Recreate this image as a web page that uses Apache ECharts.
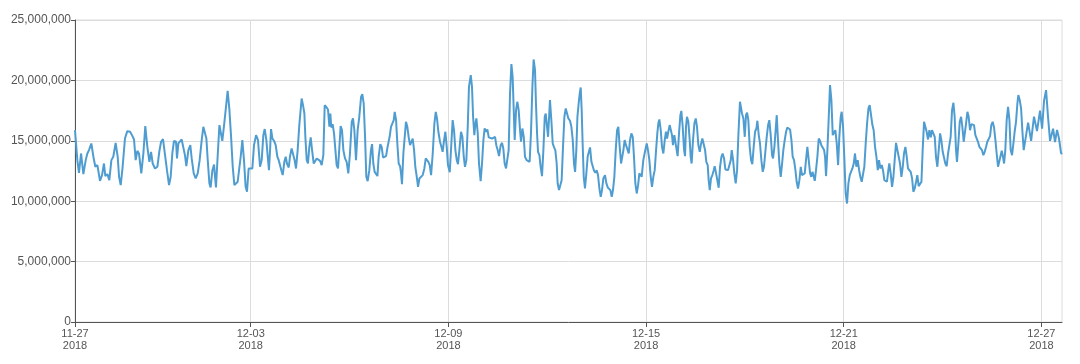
<!DOCTYPE html>
<html>
<head>
<meta charset="utf-8">
<script src="https://cdn.jsdelivr.net/npm/echarts@6/dist/echarts.min.js"></script>
<style>html,body{margin:0;padding:0;background:#fff;}#c{width:1080px;height:364px;}</style>
</head>
<body>
<div id="c"></div>
<script>
// hours since 2018-11-27 00:00
const hours = [
16.0,17.7,18.9,20.4,22.1,23.8,25.0,26.2,27.9,29.4,30.8,32.3,34.2,35.7,37.1,38.1,39.6,41.0,42.5,43.9,45.6,47.1,48.1,49.3,50.7,52.4,54.1,56.1,57.5,59.0,60.2,61.4,62.6,64.3,65.8,67.2,68.7,70.2,71.4,72.6,74.3,76.0,77.4,78.7,80.1,
83.0,84.5,85.7,86.9,88.1,89.6,90.3,91.3,92.5,93.7,94.9,96.1,97.1,98.6,100.0,101.0,102.5,103.9,105.4,106.8,108.3,109.5,110.5,111.7,112.7,113.9,114.8,116.1,117.3,118.0,118.7,119.9,121.2,122.4,123.3,124.6,126.0,127.2,128.4,129.7,130.9,132.1,133.3,134.5,135.5,136.7,137.9,139.1,140.3,141.3,142.5,143.7,145.2,146.4,147.9,149.3,
150.8,152.0,153.2,154.2,155.4,156.4,157.3,158.1,158.8,159.8,161.0,162.2,163.4,164.4,165.3,166.3,167.3,168.5,169.5,170.4,171.7,172.6,173.8,175.1,176.0,177.0,178.2,179.4,180.4,181.1,182.1,183.1,183.8,184.8,185.7,186.7,187.7,188.7,189.9,191.1,192.1,193.3,194.5,195.7,196.9,197.9,199.3,200.3,201.3,202.0,202.7,203.7,204.7,205.7,206.6,207.6,208.6,209.5,210.5,211.5,212.7,213.9,215.1,216.3,217.6,218.5,219.5,
220.7,221.9,223.1,224.4,225.3,226.3,227.3,228.2,229.2,230.4,231.6,232.4,233.3,234.3,235.5,236.3,237.2,238.4,239.4,240.4,241.4,242.6,243.5,244.3,245.2,246.2,247.2,248.2,248.9,249.9,250.8,251.8,252.8,253.5,254.2,255.2,256.2,257.1,258.1,259.1,260.1,261.0,262.0,263.0,263.9,264.9,265.9,266.9,268.1,269.3,270.5,271.5,272.4,273.4,274.4,275.4,276.6,277.8,278.8,279.7,280.7,281.9,282.9,283.8,284.8,285.8,286.8,287.7,289.0,
291.1,292.1,293.1,294.1,295.0,296.0,297.2,298.2,299.2,300.1,301.1,302.1,303.0,304.3,305.2,306.0,306.9,307.7,308.4,309.4,310.3,311.5,312.5,313.5,314.4,315.4,316.4,317.4,318.6,319.8,321.0,322.0,322.9,323.9,324.9,326.1,327.1,328.0,329.0,330.0,331.0,331.9,332.9,333.9,334.8,335.6,336.3,337.3,338.2,339.2,340.2,340.9,341.9,342.9,343.8,345.0,346.3,347.2,348.2,349.2,350.1,351.1,351.8,352.6,353.3,354.3,355.2,356.2,357.2,358.2,
358.9,360.6,362.0,363.0,364.0,365.0,365.9,366.9,367.6,368.6,369.6,370.5,371.5,372.5,373.5,374.4,375.4,376.6,377.6,378.6,379.5,380.3,381.2,382.0,382.9,383.7,384.4,385.1,385.8,386.6,387.5,388.5,389.5,390.5,391.2,392.2,393.1,394.1,395.1,396.0,397.0,398.0,399.0,399.9,400.9,402.1,403.1,404.1,405.0,406.0,407.0,407.9,408.9,409.9,410.9,411.8,412.8,413.8,414.5,415.5,416.4,417.4,418.4,419.4,420.3,421.3,422.3,423.2,424.2,425.2,426.2,427.1,
428.8,430.0,431.2,432.5,433.4,434.4,435.4,436.3,437.3,438.3,439.3,440.2,441.0,441.7,442.7,443.6,444.6,445.6,446.5,447.3,448.2,449.2,450.2,450.9,451.6,452.6,453.3,454.3,455.0,456.0,457.0,457.7,458.7,459.7,460.4,461.1,461.8,462.8,463.8,464.5,465.2,466.2,467.2,468.2,469.1,470.1,471.1,472.0,473.0,474.0,475.0,475.9,476.9,477.6,478.4,479.3,480.3,481.3,482.0,483.0,483.9,484.9,485.9,486.9,487.8,488.8,489.8,490.7,491.7,492.7,493.7,494.4,495.4,496.3,497.3,498.3,499.2,500.4,
501.9,502.9,503.9,504.8,505.6,506.5,507.5,508.5,509.4,510.4,511.4,512.4,513.1,514.1,515.0,516.0,517.0,517.9,518.9,519.9,520.9,521.8,522.8,523.8,524.5,525.5,526.4,527.2,528.1,529.1,530.1,531.1,532.0,533.0,534.0,534.9,535.9,536.9,537.9,538.8,539.8,540.8,541.7,542.7,543.7,544.7,545.6,546.6,547.6,548.5,549.5,550.5,551.5,552.4,553.2,553.9,554.9,555.8,556.8,557.8,558.7,559.7,560.7,561.7,562.4,563.1,564.1,565.1,
566.0,567.0,568.0,568.9,569.9,570.9,571.9,572.8,573.8,574.5,575.5,576.5,577.4,578.4,579.4,580.4,581.3,582.3,583.3,584.2,585.2,586.2,587.2,588.1,589.1,590.1,591.0,592.0,593.0,594.0,594.9,595.9,596.9,597.8,598.8,599.8,600.8,601.7,602.7,603.7,604.6,605.6,606.6,607.5,608.5,609.2,610.2,611.2,612.2,613.1,614.1,615.1,616.0,617.0,618.0,619.0,619.9,620.9,621.9,622.8,623.8,624.8,625.8,626.7,627.7,628.7,629.6,630.6,631.6,632.6,633.5,634.5,
635.5,636.4,637.4,638.4,639.4,640.3,641.3,642.3,643.2,644.2,645.2,646.2,647.1,648.1,649.1,650.0,651.0,652.0,653.0,653.9,654.9,655.9,656.8,657.8,658.5,659.5,660.5,661.5,662.4,663.4,664.1,665.1,666.1,667.0,668.0,669.0,670.0,670.9,671.9,672.9,673.8,674.8,675.8,676.7,677.7,678.7,679.7,680.6,681.6,682.6,683.5,684.5,685.5,686.5,687.4,688.4,689.1,690.1,691.1,692.0,692.8,693.7,694.7,695.7,696.7,697.6,698.6,699.6,700.5,701.5,702.5,703.2,704.2,705.2,706.1,707.1,708.1,
710.3,712.5,714.6,716.8,719.0,720.5,721.9,723.4,724.8,726.3,728.5,729.9,731.4,732.8,734.3,735.0
];
// values in millions
const valuesM = [
15.88,13.40,12.35,13.95,12.24,13.40,13.95,14.23,14.78,13.68,12.85,12.99,11.69,12.16,13.12,12.08,12.24,11.74,13.40,13.68,14.83,13.68,12.02,11.33,12.85,15.19,15.80,15.75,15.47,15.11,13.40,14.17,13.95,12.30,13.95,16.21,14.50,13.26,14.09,13.12,12.71,12.85,14.09,14.92,15.14,
12.57,11.33,12.02,13.95,15.00,14.92,13.54,14.78,14.92,15.11,15.00,13.81,12.90,14.23,14.64,13.54,12.30,11.88,12.30,13.40,15.06,16.16,16.30,15.19,13.40,11.47,11.14,12.57,13.04,12.02,11.14,13.68,16.30,16.16,15.00,16.30,17.81,19.14,17.68,15.33,12.85,11.33,11.47,11.61,11.47,13.68,15.06,13.40,11.19,10.78,12.71,12.85,12.71,14.64,15.47,15.06,
12.85,13.40,15.47,15.97,15.06,13.68,12.57,14.23,15.97,15.19,15.00,14.64,13.68,13.40,13.54,12.57,12.16,13.26,13.68,13.12,12.79,13.68,14.37,14.23,13.40,12.71,14.23,16.30,16.30,18.50,17.95,17.26,15.33,13.40,13.12,14.50,15.28,14.23,13.12,13.26,13.54,13.40,13.34,12.99,13.81,17.95,17.76,17.59,16.16,17.26,16.10,16.38,15.61,14.23,12.99,12.71,14.50,16.21,15.88,14.23,13.54,13.26,12.30,13.95,16.57,16.85,15.88,
13.40,15.88,16.99,18.64,18.86,18.09,15.33,12.02,11.66,12.57,14.23,14.72,13.12,12.43,12.30,12.08,13.68,14.72,14.50,13.62,13.68,13.73,14.37,14.28,15.33,16.16,16.21,16.71,17.40,16.71,14.78,13.12,12.90,12.30,11.41,13.95,15.33,16.57,16.16,15.28,14.64,14.78,15.19,14.23,12.85,12.08,11.19,11.88,11.88,12.16,12.71,13.54,13.62,13.26,12.99,12.16,13.95,16.43,17.40,16.85,15.75,14.92,14.50,14.09,15.00,15.75,14.50,12.99,12.40,
16.71,15.88,14.23,13.40,13.07,14.23,15.75,15.33,13.68,12.85,13.40,16.16,19.47,20.44,19.47,16.99,15.47,16.43,16.85,15.61,13.12,11.66,13.12,15.06,16.02,15.75,15.94,15.28,15.19,15.19,15.06,15.33,14.64,14.23,13.73,14.64,14.83,14.37,13.12,12.71,12.57,14.23,18.92,21.35,20.30,17.54,15.06,17.54,18.23,17.54,15.88,14.92,16.02,15.33,13.68,13.40,13.40,13.26,15.75,19.47,21.73,20.85,18.09,15.61,14.09,13.81,12.85,12.08,14.23,16.99,
17.26,15.33,18.37,16.71,14.78,14.45,14.23,13.12,11.47,10.92,10.86,11.74,14.50,16.99,17.68,17.54,16.85,16.66,16.16,15.06,13.12,12.43,14.23,16.99,18.09,18.92,19.41,17.54,14.78,12.02,11.05,12.30,13.73,13.81,14.45,13.26,13.12,12.52,12.35,12.57,12.16,11.05,10.36,10.92,11.88,12.16,11.47,11.14,11.14,10.92,10.36,10.92,12.02,14.23,15.88,16.16,14.50,13.12,12.99,14.23,15.06,14.64,14.50,13.95,15.06,15.61,15.33,13.68,11.47,10.64,11.33,12.30,
12.02,13.40,14.09,14.78,14.23,13.40,12.02,11.19,12.02,12.57,14.23,15.61,16.49,16.77,15.88,14.50,13.95,15.06,15.75,15.19,15.75,16.30,16.38,15.47,14.64,15.47,15.61,14.23,13.73,15.61,17.12,17.48,16.16,14.23,13.73,16.16,16.99,16.57,15.06,13.68,13.12,15.06,16.43,16.85,16.16,14.64,14.09,14.72,15.19,15.06,14.23,13.26,12.99,11.74,10.92,11.88,12.16,12.57,12.90,12.30,12.16,11.11,12.85,13.68,13.95,13.54,12.63,12.71,12.57,12.71,13.40,14.23,13.40,12.30,11.47,12.57,15.33,18.23,
17.26,16.85,15.33,17.12,17.32,16.71,14.50,13.40,13.07,14.50,15.75,16.02,16.66,15.47,14.78,13.40,12.43,12.85,12.85,15.33,16.30,16.71,15.47,13.81,13.54,14.50,15.88,17.12,15.06,13.12,12.02,13.12,14.23,15.06,15.75,16.10,16.10,15.94,15.06,13.68,13.40,12.57,11.61,11.05,11.74,12.85,12.16,12.08,12.30,13.40,14.50,13.40,12.30,12.02,12.43,12.16,11.69,12.57,13.68,15.19,15.00,14.64,14.64,14.23,13.68,12.08,14.23,16.99,
19.61,18.37,15.47,15.61,15.88,14.78,12.99,15.33,16.99,17.40,16.16,13.40,10.64,9.81,11.47,12.16,12.30,12.71,13.12,13.95,12.85,13.40,12.57,12.02,11.61,11.74,12.85,14.78,16.43,17.68,17.95,18.09,16.30,15.88,14.50,13.68,12.57,13.40,12.71,12.99,12.57,11.74,11.66,11.61,12.57,13.12,12.30,11.19,12.02,13.40,14.83,14.23,14.23,13.12,12.02,12.85,13.95,14.50,13.68,12.71,12.57,12.43,11.88,10.78,11.05,11.61,12.16,11.25,11.19,11.61,14.23,16.57,
16.66,15.75,15.11,15.88,15.28,15.88,16.02,15.33,13.68,12.85,14.23,15.61,15.06,14.09,14.09,13.12,12.90,13.95,13.95,15.33,17.54,18.15,16.99,14.23,13.26,14.78,16.57,16.99,16.16,14.92,14.78,16.43,17.40,16.99,15.88,16.38,16.43,16.30,15.47,15.61,14.92,14.50,14.37,14.23,13.81,14.09,14.50,14.92,15.06,15.39,16.30,16.57,16.10,15.06,13.95,12.85,12.71,13.68,14.17,13.68,13.12,14.23,16.71,17.81,16.71,14.23,13.81,14.78,15.75,16.57,18.09,18.78,18.37,17.68,15.88,14.23,14.23,
16.5,15.0,17.0,15.8,17.5,16.0,18.3,19.2,17.0,15.0,16.0,14.9,15.9,15.2,14.0,13.9
];
const xTickHours = [16, 144, 288, 432, 576, 720];
const xTickLabels = ['11-27\n2018', '12-03\n2018', '12-09\n2018', '12-15\n2018', '12-21\n2018', '12-27\n2018'];
const yMin = 0, yMax = 25000000, yStep = 5000000;

const data = hours.map((h, i) => [h, Math.round(valuesM[i] * 1e6)]);
const chart = echarts.init(document.getElementById('c'));
const font = 'Liberation Sans, Arial, sans-serif';
chart.setOption({
  animation: false,
  grid: { left: 75, right: 18, top: 20, bottom: 42, show: true, borderColor: '#dcdcdc', borderWidth: 1, backgroundColor: 'transparent' },
  xAxis: {
    type: 'value', min: 16, max: 735,
    axisLine: { show: true, onZero: false, lineStyle: { color: '#555', width: 1 } },
    axisTick: { show: true, length: 5, lineStyle: { color: '#555' }, customValues: xTickHours },
    axisLabel: {
      customValues: xTickHours, color: '#555', fontSize: 11, fontFamily: font, lineHeight: 12, margin: 6,
      showMinLabel: true, showMaxLabel: true,
      formatter: v => xTickLabels[xTickHours.indexOf(Math.round(v))] || ''
    },
    splitLine: { show: true, lineStyle: { color: '#dcdcdc', width: 1 } }
  },
  yAxis: {
    type: 'value', min: yMin, max: yMax, interval: yStep,
    axisLine: { show: true, lineStyle: { color: '#555', width: 1 } },
    axisTick: { show: true, length: 4, lineStyle: { color: '#555' } },
    axisLabel: { color: '#555', fontSize: 12, fontFamily: font, margin: 4, formatter: v => v.toLocaleString('en-US') },
    splitLine: { show: true, lineStyle: { color: '#dcdcdc', width: 1 } }
  },
  series: [{
    type: 'line', data: data, showSymbol: false, symbol: 'none',
    lineStyle: { color: '#4f9dd0', width: 2 }, itemStyle: { color: '#4f9dd0' }
  }]
});
</script>
</body>
</html>
